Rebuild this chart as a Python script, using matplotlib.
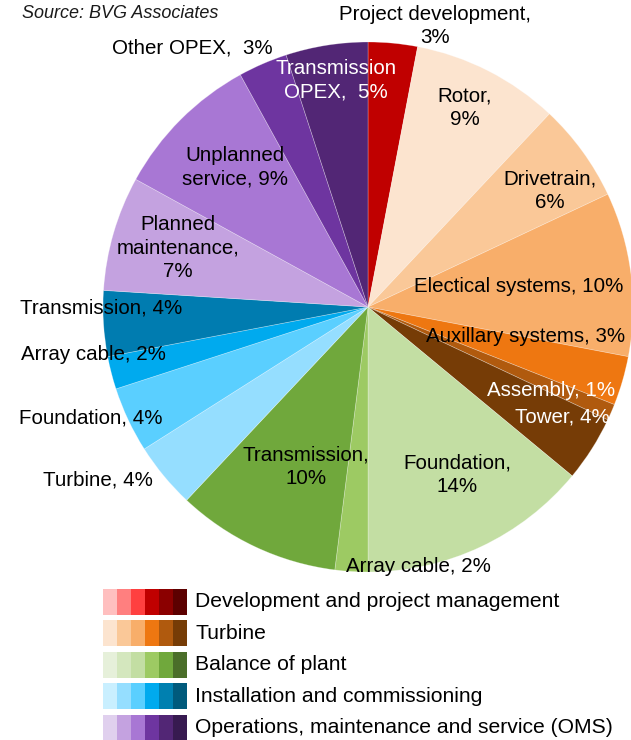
import matplotlib.pyplot as plt
from matplotlib.patches import FancyBboxPatch

plt.rcParams['font.family'] = ['Liberation Sans', 'DejaVu Sans']

# cost breakdown, clockwise from 12 o'clock
labels = ["Project development,\n3%", "Rotor,\n9%", "Drivetrain,\n6%",
          "Electical systems, 10%", "Auxillary systems, 3%", "Assembly, 1%",
          "Tower, 4%", "Foundation,\n14%", "Array cable, 2%",
          "Transmission,\n10%", "Turbine, 4%", "Foundation, 4%",
          "Array cable, 2%", "Transmission, 4%", "Planned\nmaintenance,\n7%",
          "Unplanned\nservice, 9%", "Other OPEX,  3%", "Transmission\nOPEX,  5%"]
shares = [3, 9, 6, 10, 3, 1, 4, 14, 2, 10, 4, 4, 2, 4, 7, 9, 3, 5]
slice_colors = ["#C00000", "#FCE4CF", "#FAC898", "#F8AE6A", "#EE7711", "#B05A0E",
                "#763C06", "#C3DEA3", "#9DCA63", "#70A83C", "#95DEFF", "#5ACFFF",
                "#00AAEE", "#007CB0", "#C4A2E0", "#A877D4", "#6E35A0", "#522675"]

groups = ["Development and project management", "Turbine", "Balance of plant",
          "Installation and commissioning",
          "Operations, maintenance and service (OMS)"]
group_shades = [
    ["#FFBFBF", "#FF7F7F", "#FF4040", "#C00000", "#8B0000", "#5C0000"],
    ["#FCE4CF", "#FAC898", "#F8AE6A", "#EE7711", "#B05A0E", "#763C06"],
    ["#E6F0DA", "#D4E7BE", "#C3DEA3", "#9DCA63", "#70A83C", "#4A6E29"],
    ["#C9EFFF", "#95DEFF", "#5ACFFF", "#00AAEE", "#0080B0", "#005A7C"],
    ["#E0D0EE", "#C4A2E0", "#A877D4", "#6E35A0", "#522675", "#371A50"],
]

W, H = 631, 740
fig = plt.figure(figsize=(W / 100, H / 100), dpi=100)
ax = fig.add_axes([0, 0, 1, 1])


def Y(y):
    # convert top-down pixel rows to axes y
    return H - y


ax.pie(shares, colors=slice_colors, startangle=90, counterclock=False,
       center=(368, Y(307)), radius=265, frame=True,
       wedgeprops=dict(edgecolor=(1, 1, 1, 0.35), linewidth=0.5))

# label placement (x, y, colour)
label_pos = [(435, 26, "k"), (465, 108, "k"), (550, 191, "k"), (519, 287, "k"),
             (526, 336, "k"), (551, 390, "white"), (562, 417, "white"),
             (457, 475, "k"), (418, 567, "k"), (306, 467, "k"), (98, 480, "k"),
             (91, 418, "k"), (93, 355, "k"), (101, 308, "k"), (178, 248, "k"),
             (235, 167, "k"), (192, 48, "k"), (336, 80, "white")]
for text, (x, y, c) in zip(labels, label_pos):
    ax.text(x, Y(y), text, ha="center", va="center", fontsize=14.8,
            color=c, linespacing=1.3)

ax.text(22, Y(14), "Source: BVG Associates", fontsize=13, style="italic",
        ha="left", va="center", color="#1a1a1a")

# legend: six shades per group
for i, (name, shades) in enumerate(zip(groups, group_shades)):
    yc = 601.5 + i * 31.6
    for j, c in enumerate(shades):
        ax.add_patch(FancyBboxPatch((103 + j * 14, Y(yc + 13)), 14, 26,
                                    boxstyle="square,pad=0", fc=c, ec="none"))
    ax.text(195, Y(yc), name, fontsize=15.2, ha="left", va="center", color="k")

ax.set_xlim(0, W)
ax.set_ylim(0, H)
ax.set_aspect("equal")
ax.axis("off")
fig.savefig("out.png", dpi=100)
